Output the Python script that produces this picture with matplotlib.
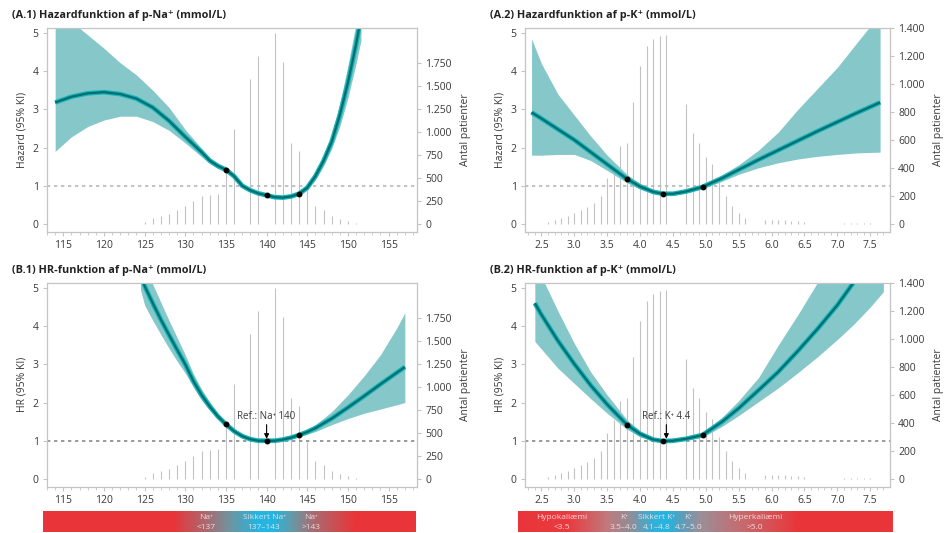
import numpy as np
import matplotlib
matplotlib.use("Agg")
import matplotlib.pyplot as plt
from matplotlib.colors import to_rgb

plt.rcParams['font.family'] = ['Open Sans', 'DejaVu Sans']

# ---- data ----
# (A.1) hazard of p-Na+
na_x = [114, 116, 118, 120, 122, 124, 126, 128, 130, 132, 133, 134, 135, 136, 137, 138,
        139, 140, 141, 142, 143, 144, 145, 146, 147, 148, 149, 150, 151, 151.6]
na_haz = [3.18, 3.33, 3.42, 3.45, 3.40, 3.28, 3.05, 2.70, 2.28, 1.88, 1.66, 1.52, 1.42, 1.25,
          1.00, 0.88, 0.80, 0.75, 0.70, 0.69, 0.72, 0.79, 0.95, 1.25, 1.65, 2.15, 2.85, 3.70, 4.70, 5.40]
na_haz_lo = [1.90, 2.28, 2.55, 2.72, 2.82, 2.82, 2.68, 2.45, 2.12, 1.76, 1.58, 1.45, 1.36, 1.20,
             0.96, 0.84, 0.77, 0.72, 0.67, 0.66, 0.69, 0.75, 0.89, 1.16, 1.52, 1.97, 2.55, 3.30, 4.20, 4.80]
na_haz_hi = [6.50, 5.30, 4.95, 4.60, 4.22, 3.90, 3.50, 3.05, 2.47, 1.98, 1.73, 1.57, 1.48, 1.30,
             1.04, 0.92, 0.84, 0.78, 0.73, 0.72, 0.76, 0.84, 1.01, 1.35, 1.80, 2.35, 3.15, 4.15, 5.25, 6.10]

# (A.2) hazard of p-K+
k_x = [2.35, 2.5, 2.75, 3.0, 3.25, 3.5, 3.8, 4.0, 4.2, 4.35, 4.5, 4.7, 4.95, 5.25, 5.5,
       5.8, 6.1, 6.4, 6.7, 7.0, 7.3, 7.65]
k_haz = [2.92, 2.76, 2.48, 2.20, 1.88, 1.56, 1.18, 0.98, 0.84, 0.79, 0.79, 0.85, 0.97, 1.20,
         1.42, 1.68, 1.93, 2.18, 2.43, 2.67, 2.91, 3.18]
k_haz_lo = [1.80, 1.80, 1.82, 1.82, 1.66, 1.40, 1.08, 0.91, 0.79, 0.74, 0.75, 0.81, 0.92, 1.12,
            1.30, 1.47, 1.60, 1.70, 1.77, 1.82, 1.86, 1.88]
k_haz_hi = [4.85, 4.20, 3.40, 2.85, 2.30, 1.80, 1.30, 1.06, 0.89, 0.84, 0.83, 0.89, 1.02, 1.29,
            1.55, 1.93, 2.40, 3.00, 3.55, 4.10, 4.75, 5.50]

# (B.1) HR of p-Na+ (ref. 140)
na_hr_x = [124.5, 125, 126, 127, 128, 129, 130, 131, 132, 133, 134, 135, 136, 137, 138, 139,
           140, 141, 142, 143, 144, 145, 146, 148, 150, 152, 154, 156, 157]
na_hr = [5.35, 5.05, 4.60, 4.17, 3.77, 3.38, 3.00, 2.56, 2.20, 1.90, 1.64, 1.43, 1.25, 1.12,
         1.04, 1.00, 1.00, 1.00, 1.03, 1.08, 1.15, 1.23, 1.33, 1.58, 1.87, 2.17, 2.48, 2.78, 2.93]
na_hr_lo = [4.95, 4.55, 4.15, 3.78, 3.42, 3.08, 2.77, 2.40, 2.06, 1.80, 1.57, 1.38, 1.21, 1.09,
            1.02, 0.99, 1.00, 0.99, 1.01, 1.05, 1.10, 1.17, 1.24, 1.42, 1.58, 1.72, 1.83, 1.94, 2.00]
na_hr_hi = [5.90, 5.50, 5.10, 4.62, 4.15, 3.70, 3.25, 2.75, 2.35, 2.02, 1.72, 1.49, 1.29, 1.15,
            1.06, 1.01, 1.00, 1.01, 1.05, 1.11, 1.20, 1.30, 1.42, 1.76, 2.20, 2.70, 3.25, 3.95, 4.35]

# (B.2) HR of p-K+ (ref. 4.4)
k_hr_x = [2.4, 2.5, 2.75, 3.0, 3.25, 3.5, 3.8, 4.0, 4.2, 4.35, 4.5, 4.7, 4.95, 5.25, 5.5,
          5.8, 6.1, 6.4, 6.7, 7.0, 7.25, 7.5, 7.7]
k_hr = [4.60, 4.30, 3.62, 3.01, 2.45, 1.95, 1.42, 1.18, 1.03, 0.99, 1.00, 1.05, 1.15, 1.50,
        1.85, 2.32, 2.80, 3.35, 3.93, 4.55, 5.15, 5.75, 6.30]
k_hr_lo = [3.60, 3.40, 2.90, 2.50, 2.10, 1.72, 1.30, 1.10, 1.00, 0.98, 0.98, 1.01, 1.09, 1.38,
           1.66, 2.02, 2.38, 2.78, 3.20, 3.65, 4.05, 4.50, 4.90]
k_hr_hi = [5.70, 5.30, 4.40, 3.55, 2.80, 2.20, 1.55, 1.26, 1.06, 1.00, 1.02, 1.09, 1.22, 1.62,
           2.05, 2.65, 3.50, 4.30, 5.15, 6.00, 6.60, 7.20, 7.60]

# marked points on the curves
na_marks = [135, 140, 144]
k_marks = [3.8, 4.35, 4.95]

# number of patients (right axis)
na_bins = [125, 126, 127, 128, 129, 130, 131, 132, 133, 134, 135, 136, 138, 139, 141, 142,
           143, 144, 145, 146, 147, 148, 149, 150, 151]
na_counts = [20, 60, 90, 110, 150, 190, 250, 300, 310, 320, 560, 1030, 1570, 1820, 2070, 1760,
             880, 790, 400, 200, 150, 90, 50, 30, 15]
k_bins = [2.6, 2.7, 2.8, 2.9, 3.0, 3.1, 3.2, 3.3, 3.4, 3.5, 3.6, 3.7, 3.8, 3.9, 4.0, 4.1, 4.2,
          4.3, 4.4, 4.7, 4.8, 4.9, 5.0, 5.1, 5.2, 5.3, 5.4, 5.5, 5.6,
          5.9, 6.0, 6.1, 6.2, 6.3, 6.4, 6.5, 7.1, 7.2, 7.3, 7.4, 7.5]
k_counts = [15, 25, 40, 60, 80, 100, 120, 150, 200, 330, 420, 560, 580, 870, 1130, 1270, 1320,
            1340, 1350, 860, 650, 580, 480, 430, 300, 200, 130, 80, 40,
            30, 30, 25, 25, 20, 20, 15, 8, 8, 8, 8, 8]

# colour band under the bottom panels: (value, colour)
na_band_stops = [(113.0, '#e9353a'), (129.0, '#e9353a'), (133.0, '#a96b70'), (136.0, '#6b97a3'),
                 (139.3, '#22b6e3'), (141.0, '#22b6e3'), (143.5, '#6b97a3'), (146.0, '#a96b70'),
                 (151.0, '#e9353a'), (159.0, '#e9353a')]
k_band_stops = [(2.1, '#e9353a'), (2.9, '#ea3a40'), (3.5, '#c07a7e'), (3.85, '#8f8e98'),
                (4.15, '#3aaed4'), (4.4, '#22b6e3'), (4.6, '#55a0bf'), (4.9, '#9a8f98'),
                (5.5, '#c46d71'), (6.4, '#e9353a'), (7.9, '#e9353a')]
na_band_text = [(133.0, 'Na\u207a', '<137'), (140.0, 'Sikkert Na\u207a', '137\u2013143'),
                (145.7, 'Na\u207a', '>143')]
k_band_text = [(2.8, 'Hypokali\u00e6mi', '<3.5'), (3.75, 'K\u207a', '3.5\u20134.0'),
               (4.25, 'Sikkert K\u207a', '4.1\u20134.8'), (4.73, 'K\u207a', '4.7\u20135.0'),
               (5.75, 'Hyperkali\u00e6mi', '>5.0')]

# ---- styling ----
band_col = '#86c8ca'
glow_col = '#19b4b6'
line_col = '#006e72'
grey = '#c4c4c4'
txt = '#3a3a3a'
ylim = (-0.2, 5.13)

fig = plt.figure(figsize=(9.5, 5.33), dpi=100)


def make_panel(rect, xlim, xticks, xticklabels, minor_step, title, ylabel,
               cx, cy, lo, hi, marks, bins, counts, per_unit, rticks, rlabels, bar_w,
               dash_col, ref=None):
    ax = fig.add_axes(rect)
    ax2 = ax.twinx()
    ax.set_zorder(ax2.get_zorder() + 1)
    ax.patch.set_visible(False)

    ax2.vlines(bins, 0, counts, color='#c2c2c2', lw=bar_w)
    ax2.set_ylim(ylim[0] * per_unit, ylim[1] * per_unit)
    ax2.set_yticks(rticks)
    ax2.set_yticklabels(rlabels)
    ax2.set_ylabel('Antal patienter', fontsize=7.5, color=txt, labelpad=6)

    ax.fill_between(cx, lo, hi, color=band_col, lw=0)
    ax.plot(cx, cy, color=glow_col, lw=3.4, solid_capstyle='butt')
    ax.plot(cx, cy, color=line_col, lw=1.6, solid_capstyle='butt')
    ax.plot(marks, np.interp(marks, cx, cy), 'o', color='black', ms=3.2, zorder=5)
    ax.axhline(1, color=dash_col, lw=1.2, dashes=(2, 2.2), zorder=1)

    ax.set_xlim(xlim)
    ax.set_ylim(ylim)
    ax.set_xticks(xticks)
    ax.set_xticklabels(xticklabels)
    ax.set_xticks(np.arange(xticks[0] - 2 * minor_step, xlim[1], minor_step), minor=True)
    ax.set_yticks([0, 1, 2, 3, 4, 5])
    ax.set_ylabel(ylabel, fontsize=7.5, color=txt, labelpad=4)
    ax.text(-0.095, 1.035, title, transform=ax.transAxes, fontsize=7.8,
            fontweight='bold', color='#222222', ha='left', va='bottom')

    for a in (ax, ax2):
        for s in a.spines.values():
            s.set_color(grey)
            s.set_linewidth(0.8)
        a.tick_params(labelsize=7.5, labelcolor=txt, color=grey, length=3, width=0.8, pad=3)
    ax.tick_params(axis='x', which='minor', length=2, color=grey, width=0.6)

    if ref is not None:
        rx, rlab = ref
        ax.annotate('', xy=(rx, 1.05), xytext=(rx, 1.42),
                    arrowprops=dict(arrowstyle='-|>', color='black', lw=0.8,
                                    mutation_scale=7, shrinkA=0, shrinkB=0))
        ax.text(rx, 1.5, rlab, fontsize=7, color=txt, ha='center', va='bottom')
    return ax


def make_band(rect, xlim, stops, labels):
    bx = fig.add_axes(rect)
    xs = np.linspace(xlim[0], xlim[1], 600)
    pos = [s[0] for s in stops]
    rgb = np.array([to_rgb(s[1]) for s in stops])
    img = np.stack([np.interp(xs, pos, rgb[:, i]) for i in range(3)], axis=-1)[None, :, :]
    bx.imshow(img, extent=[xlim[0], xlim[1], 0, 1], aspect='auto', interpolation='bilinear')
    bx.set_xlim(xlim)
    bx.set_ylim(0, 1)
    bx.axis('off')
    for x, l1, l2 in labels:
        bx.text(x, 0.70, l1, fontsize=6, color='#f6e6e6', ha='center', va='center', alpha=0.9)
        bx.text(x, 0.22, l2, fontsize=6, color='#f6e6e6', ha='center', va='center', alpha=0.9)


na_xlim = (113.67, 158.5)
k_xlim = (2.25, 7.80)
na_ticks = [115, 120, 125, 130, 135, 140, 145, 150, 155]
k_ticks = [2.5, 3.0, 3.5, 4.0, 4.5, 5.0, 5.5, 6.0, 6.5, 7.0, 7.5]
k_ticklabels = ['%.1f' % t for t in k_ticks]
na_rticks = [0, 250, 500, 750, 1000, 1250, 1500, 1750]
na_rlabels = ['0', '250', '500', '750', '1.000', '1.250', '1.500', '1.750']
k_rticks = [0, 200, 400, 600, 800, 1000, 1200, 1400]
k_rlabels = ['0', '200', '400', '600', '800', '1.000', '1.200', '1.400']

left_l, left_w = 0.0495, 0.3895
right_l, right_w = 0.5526, 0.3842
top_b, bot_b, h = 0.5655, 0.0871, 0.382

make_panel([left_l, top_b, left_w, h], na_xlim, na_ticks, na_ticks, 1,
           '(A.1) Hazardfunktion af p-Na\u207a (mmol/L)', 'Hazard (95% KI)',
           na_x, na_haz, na_haz_lo, na_haz_hi, na_marks, na_bins, na_counts, 415,
           na_rticks, na_rlabels, 0.8, '#b8b8b8')
make_panel([right_l, top_b, right_w, h], k_xlim, k_ticks, k_ticklabels, 0.1,
           '(A.2) Hazardfunktion af p-K\u207a (mmol/L)', 'Hazard (95% KI)',
           k_x, k_haz, k_haz_lo, k_haz_hi, k_marks, k_bins, k_counts, 273,
           k_rticks, k_rlabels, 0.8, '#b8b8b8')
make_panel([left_l, bot_b, left_w, h], na_xlim, na_ticks, na_ticks, 1,
           '(B.1) HR-funktion af p-Na\u207a (mmol/L)', 'HR (95% KI)',
           na_hr_x, na_hr, na_hr_lo, na_hr_hi, na_marks, na_bins, na_counts, 415,
           na_rticks, na_rlabels, 0.8, '#8a8a8a', ref=(140, 'Ref.: Na\u207a 140'))
make_panel([right_l, bot_b, right_w, h], k_xlim, k_ticks, k_ticklabels, 0.1,
           '(B.2) HR-funktion af p-K\u207a (mmol/L)', 'HR (95% KI)',
           k_hr_x, k_hr, k_hr_lo, k_hr_hi, k_marks, k_bins, k_counts, 273,
           k_rticks, k_rlabels, 0.8, '#8a8a8a', ref=(4.4, 'Ref.: K\u207a 4.4'))

make_band([0.0453, 0.002, 0.3916, 0.0394], (113.2, 158.3), na_band_stops, na_band_text)
make_band([0.5453, 0.002, 0.3937, 0.0394], (2.14, 7.83), k_band_stops, k_band_text)

fig.savefig('out.png', dpi=100, facecolor='white')
